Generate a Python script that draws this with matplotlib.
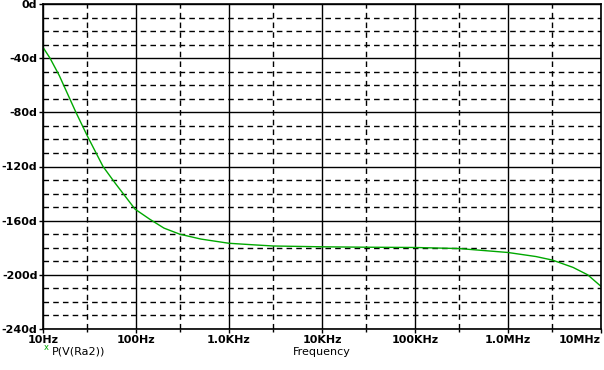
import numpy as np
import matplotlib
matplotlib.use('Agg')
import matplotlib.pyplot as plt
from matplotlib.ticker import FixedLocator, NullFormatter

# datos
frecuencia = [10, 11.9, 15, 22.6, 30, 44.2, 60, 97.7, 141, 200, 296, 500,
              1000, 2000, 3000, 10000, 30000, 100000, 300000, 1e6, 2e6,
              3e6, 5e6, 7.2e6, 1e7]
fase = [-32, -40, -53, -80, -97.5, -120, -132.5, -151.5, -159, -165.5, -170,
        -173.6, -176.7, -178, -178.7, -179.3, -179.6, -179.8, -180.6, -183.5,
        -186.5, -189.1, -194.5, -200, -208.5]

xticks = [10, 100, 1e3, 1e4, 1e5, 1e6, 1e7]
xlabels = ['10Hz', '100Hz', '1.0KHz', '10KHz', '100KHz', '1.0MHz', '10MHz']
yticks = [0, -40, -80, -120, -160, -200, -240]
ylabels = ['0d', '-40d', '-80d', '-120d', '-160d', '-200d', '-240d']

plt.rcParams['font.family'] = ['Liberation Sans Narrow', 'DejaVu Sans']

fig = plt.figure(figsize=(6.04, 3.70), dpi=100)
ax = fig.add_axes([43/604, 1-329/370, 558/604, 325/370])

ax.plot(frecuencia, fase, color='#00a800', lw=1.0)
ax.set_xscale('log')
ax.set_xlim(10, 1e7)
ax.set_ylim(-240, 0)

ax.xaxis.set_major_locator(FixedLocator(xticks))
ax.xaxis.set_minor_locator(FixedLocator([3*10**k for k in range(1, 7)]))
ax.xaxis.set_minor_formatter(NullFormatter())
ax.set_xticklabels(xlabels, fontsize=8, fontweight='bold')
ax.get_xticklabels()[-1].set_horizontalalignment('right')
ax.get_xticklabels()[-1].set_x(1.02e7)
ax.yaxis.set_major_locator(FixedLocator(yticks))
ax.yaxis.set_minor_locator(FixedLocator([v for v in range(-230, 0, 10) if v % 40 != 0]))
ax.set_yticklabels(ylabels, fontsize=8, fontweight='bold')

ax.grid(which='major', color='black', lw=1.0, ls='-')
ax.grid(which='minor', color='black', lw=1.0, ls=(0, (4, 3)))
ax.tick_params(which='major', length=3, width=1, pad=1, colors='black')
ax.tick_params(axis='y', which='minor', length=0)
ax.tick_params(axis='x', which='minor', length=2, width=1)
for s in ax.spines.values():
    s.set_linewidth(1.2)

ax.set_xlabel('Frequency', fontsize=8, labelpad=2)

fig.text(46/604, 1-348/370, 'x', color='#00a800', fontsize=6, ha='center', va='center')
fig.text(52/604, 1-351/370, 'P(V(Ra2))', fontsize=8, ha='left', va='center')

fig.savefig('out.png', dpi=100)
